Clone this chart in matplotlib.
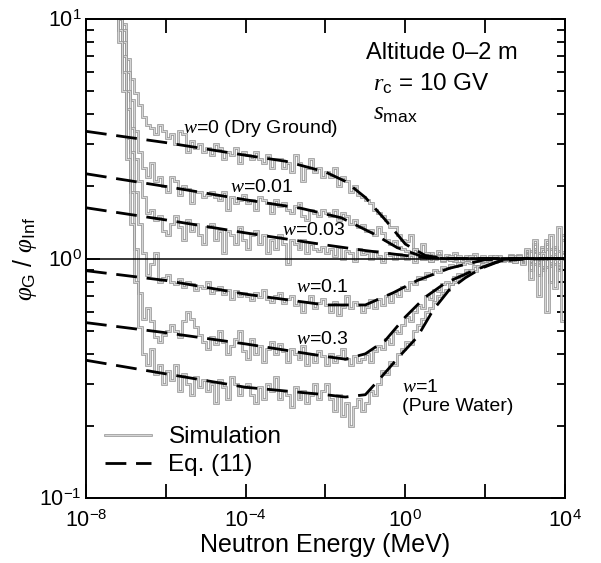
import numpy as np
import matplotlib
matplotlib.use('Agg')
import matplotlib.pyplot as plt
import matplotlib.patheffects as pe
from matplotlib.ticker import FixedLocator, LogLocator, NullFormatter
from matplotlib.lines import Line2D

plt.rcParams['font.family'] = ['Liberation Sans', 'DejaVu Sans']
plt.rcParams['mathtext.fontset'] = 'custom'
plt.rcParams['mathtext.rm'] = 'Liberation Sans'
plt.rcParams['mathtext.it'] = 'Liberation Serif:italic'
plt.rcParams['mathtext.bf'] = 'Liberation Sans:bold'

# simulation histograms, 0.1-decade bins from 10^-7.3 to 10^4 MeV
log_edges = np.round(np.arange(-7.3, 4.05, 0.1), 1)

sim_w0 = [14, 13, 9.5,
          6.8, 5.6, 4.9, 4.4, 3.9, 3.6, 3.5, 3.3, 3.6, 3.4,
          3.2, 3.3, 3.0, 3.4, 3.3, 2.8, 3.1, 2.9, 3.0, 2.8,
          2.9, 2.7, 3.0, 2.9, 2.6, 2.8, 2.7, 2.9, 2.5, 2.8,
          2.7, 2.6, 2.8, 2.6, 2.5, 2.7, 2.4, 2.6, 2.6, 2.4,
          2.5, 2.3, 2.7, 2.5, 2.1, 2.4, 2.6, 2.3, 2.4, 2.2,
          2.3, 2.2, 2.4, 2.0, 2.2, 2.1, 1.9, 2.0, 1.85, 1.8,
          1.75, 1.7, 1.6, 1.55, 1.5, 1.45, 1.35, 1.35, 1.25, 1.2,
          1.18, 1.25, 1.1, 1.05, 1.15, 1.0, 1.05, 1.02, 1.08, 0.98,
          1.03, 0.99, 1.05, 1.01, 0.98, 1.02, 1.0, 1.04, 0.99, 1.01,
          1.0, 1.02, 0.98, 1.01, 0.99, 1.0, 1.03, 0.97, 1.01, 1.0,
          1.02, 1.08, 0.95, 1.05, 1.12, 0.92, 1.1, 1.0, 0.9, 1.2]

sim_w001 = [14, 12, 9,
            6.0, 4.6, 3.4, 2.8, 2.4, 2.2, 2.5, 2.1, 2.2, 2.0,
            1.9, 2.2, 2.1, 1.85, 2.0, 1.95, 1.7, 1.9, 1.9, 1.8,
            1.85, 1.9, 1.8, 1.75, 1.9, 1.6, 1.8, 1.7, 1.75, 1.85,
            1.7, 1.75, 1.6, 1.8, 1.75, 1.7, 1.55, 1.75, 1.65, 1.7,
            1.6, 1.55, 1.65, 1.7, 1.5, 1.45, 1.6, 1.55, 1.5, 1.6,
            1.55, 1.5, 1.6, 1.45, 1.55, 1.5, 1.4, 1.45, 1.35, 1.38,
            1.3, 1.32, 1.25, 1.35, 1.28, 1.2, 1.15, 1.18, 1.12, 1.1,
            1.08, 1.05, 1.1, 1.02, 1.0, 1.04, 0.98, 1.01, 1.03, 1.0,
            1.0, 1.02, 0.98, 1.01, 1.0, 0.99, 1.02, 1.0, 0.98, 1.01,
            1.01, 0.99, 1.0, 1.02, 0.98, 1.0, 1.01, 0.99, 1.03, 0.98,
            1.05, 0.96, 1.1, 1.0, 0.92, 1.15, 1.02, 0.95, 1.08, 1.0]

sim_w003 = [14, 11, 8,
            5.0, 3.5, 2.6, 2.1, 1.8, 1.55, 1.6, 1.45, 1.5, 1.3,
            1.25, 1.4, 1.5, 1.35, 1.2, 1.45, 1.3, 1.4, 1.25, 1.15,
            1.35, 1.4, 1.2, 1.3, 1.05, 1.3, 1.25, 1.15, 1.35, 1.2,
            1.1, 1.25, 1.3, 1.15, 1.25, 1.05, 1.2, 1.1, 1.25, 1.15,
            0.95, 1.2, 1.15, 1.1, 1.2, 1.05, 1.15, 1.1, 1.08, 1.12,
            1.05, 1.1, 1.02, 1.12, 1.0, 1.08, 1.05, 0.98, 1.1, 1.04,
            1.05, 1.0, 1.08, 1.02, 0.97, 1.05, 1.03, 1.0, 1.04, 1.02,
            1.0, 1.03, 0.97, 1.02, 1.0, 1.05, 0.98, 1.0, 1.02, 0.99,
            1.01, 0.99, 1.0, 1.02, 0.98, 1.0, 1.01, 0.99, 1.0, 1.02,
            0.99, 1.0, 1.02, 0.98, 1.01, 1.0, 0.99, 1.02, 1.0, 0.97,
            1.04, 0.98, 1.06, 0.94, 1.1, 1.0, 0.93, 1.12, 1.0, 1.05]

sim_w01 = [13, 10, 7,
           4.2, 2.8, 1.9, 1.4, 1.05, 0.85, 0.95, 1.05, 0.8, 0.83,
           0.85, 0.8, 0.78, 0.82, 0.76, 0.8, 0.78, 0.74, 0.77, 0.75,
           0.8, 0.72, 0.74, 0.76, 0.71, 0.74, 0.68, 0.73, 0.7, 0.72,
           0.7, 0.67, 0.72, 0.69, 0.74, 0.68, 0.66, 0.7, 0.72, 0.65,
           0.68, 0.7, 0.64, 0.66, 0.6, 0.66, 0.7, 0.62, 0.65, 0.68,
           0.64, 0.6, 0.66, 0.58, 0.63, 0.7, 0.62, 0.66, 0.64, 0.6,
           0.63, 0.67, 0.62, 0.68, 0.64, 0.7, 0.66, 0.72, 0.7, 0.76,
           0.74, 0.8, 0.78, 0.84, 0.82, 0.87, 0.86, 0.9, 0.88, 0.92,
           0.91, 0.94, 0.93, 0.96, 0.95, 0.97, 0.96, 0.98, 0.99, 0.98,
           1.0, 0.99, 1.01, 0.98, 1.0, 0.99, 1.02, 0.98, 1.0, 0.97,
           1.03, 0.95, 1.08, 0.97, 0.9, 1.1, 0.96, 1.04, 0.92, 1.06]

sim_w03 = [12, 9, 6,
           3.2, 1.9, 1.1, 0.72, 0.56, 0.62, 0.55, 0.47, 0.45, 0.48,
           0.5, 0.53, 0.5, 0.47, 0.55, 0.6, 0.56, 0.52, 0.48, 0.45,
           0.42, 0.47, 0.44, 0.5, 0.45, 0.4, 0.43, 0.46, 0.5, 0.41,
           0.38, 0.46, 0.4, 0.43, 0.37, 0.42, 0.45, 0.4, 0.44, 0.41,
           0.37, 0.42, 0.4, 0.38, 0.43, 0.36, 0.4, 0.37, 0.41, 0.39,
           0.36, 0.4, 0.37, 0.39, 0.42, 0.38, 0.36, 0.39, 0.37, 0.38,
           0.4, 0.37, 0.41, 0.43, 0.42, 0.46, 0.44, 0.5, 0.49, 0.53,
           0.57, 0.55, 0.6, 0.64, 0.62, 0.7, 0.68, 0.74, 0.73, 0.78,
           0.8, 0.78, 0.84, 0.86, 0.85, 0.9, 0.88, 0.93, 0.92, 0.95,
           0.96, 0.98, 0.97, 1.0, 0.99, 1.01, 0.98, 1.0, 1.02, 0.96,
           1.08, 0.9, 1.15, 0.85, 1.0, 1.2, 0.8, 1.1, 0.95, 1.25]

sim_w1 = [11, 8, 5,
          2.6, 1.4, 0.8, 0.52, 0.4, 0.36, 0.42, 0.33, 0.36, 0.3,
          0.34, 0.31, 0.36, 0.28, 0.33, 0.3, 0.27, 0.32, 0.29, 0.31,
          0.28, 0.3, 0.25, 0.31, 0.29, 0.26, 0.32, 0.3, 0.27, 0.29,
          0.3, 0.27, 0.25, 0.29, 0.26, 0.3, 0.28, 0.32, 0.26, 0.28,
          0.27, 0.24, 0.29, 0.26, 0.28, 0.25, 0.27, 0.3, 0.26, 0.28,
          0.3, 0.26, 0.23, 0.27, 0.22, 0.25, 0.2, 0.24, 0.26, 0.23,
          0.25, 0.28, 0.27, 0.3, 0.34, 0.33, 0.37, 0.36, 0.4, 0.42,
          0.45, 0.44, 0.5, 0.53, 0.56, 0.6, 0.62, 0.66, 0.7, 0.72,
          0.74, 0.78, 0.8, 0.82, 0.85, 0.87, 0.9, 0.89, 0.93, 0.95,
          0.96, 0.97, 0.99, 0.98, 1.0, 0.99, 1.02, 0.97, 1.01, 0.95,
          1.1, 0.82, 1.2, 0.7, 1.05, 0.6, 1.25, 0.75, 1.35, 0.55]

# Eq. (11) curves: (log10 E, ratio)
eq_w0 = ([-8, -6, -4, -3, -2, -1.5, -1, -0.5, 0, 0.5, 1, 4],
         [3.4, 3.05, 2.7, 2.55, 2.3, 2.1, 1.8, 1.45, 1.15, 1.03, 1.0, 1.0])
eq_w001 = ([-8, -6, -4, -2.6, -1.6, -0.8, -0.2, 0.5, 1, 4],
           [2.26, 2.0, 1.76, 1.62, 1.48, 1.27, 1.11, 1.01, 1.0, 1.0])
eq_w003 = ([-8, -6, -4, -2, -1, 0, 0.5, 1, 4],
           [1.63, 1.45, 1.28, 1.14, 1.08, 1.03, 1.01, 1.0, 1.0])
eq_w01 = ([-8, -6, -4, -2, -1, -0.3, 0.3, 1.1, 2, 4],
          [0.89, 0.81, 0.71, 0.64, 0.64, 0.72, 0.81, 0.91, 0.99, 1.0])
eq_w03 = ([-8, -6, -4, -2, -1.5, -1, -0.5, 0, 0.5, 1, 1.7, 2.3, 3, 4],
          [0.54, 0.49, 0.44, 0.39, 0.38, 0.40, 0.455, 0.57, 0.69, 0.79, 0.89, 0.97, 1.0, 1.0])
eq_w1 = ([-8, -6, -4, -2, -1.5, -1, -0.6, -0.15, 0.3, 0.7, 1.1, 1.5, 1.9, 2.4, 3, 4],
         [0.376, 0.33, 0.29, 0.27, 0.264, 0.27, 0.32, 0.39, 0.47, 0.61, 0.74, 0.83, 0.91, 0.98, 1.0, 1.0])

sims = [sim_w0, sim_w001, sim_w003, sim_w01, sim_w03, sim_w1]
eqs = [eq_w0, eq_w001, eq_w003, eq_w01, eq_w03, eq_w1]

fig = plt.figure(figsize=(6.01, 5.63), dpi=100)
ax = fig.add_axes([0.143, 0.1155, 0.797, 0.8505])

edges = 10.0 ** log_edges
hollow = [pe.Stroke(linewidth=1.9, foreground='#999999'), pe.Normal()]
for vals in sims:
    ax.stairs(vals, edges, baseline=None, color='#f0f0f0', linewidth=0.5,
              path_effects=hollow, zorder=2)

ax.axhline(1.0, color='k', linewidth=1.1, zorder=3)

for lx, ly in eqs:
    ax.plot(10.0 ** np.array(lx), ly, color='k', linewidth=2.0,
            dashes=(7.5, 3.5), zorder=4)

ax.set_xscale('log')
ax.set_yscale('log')
ax.set_xlim(1e-8, 1e4)
ax.set_ylim(0.1, 10)

ax.xaxis.set_major_locator(FixedLocator([10.0 ** k for k in range(-8, 5, 2)]))
ax.xaxis.set_minor_locator(FixedLocator([]))
ax.set_xticklabels(['$10^{-8}$', '', '$10^{-4}$', '', '$10^{0}$', '', '$10^{4}$'])
ax.yaxis.set_major_locator(FixedLocator([0.1, 1, 10]))
ax.yaxis.set_minor_locator(LogLocator(base=10, subs=np.arange(2, 10)))
ax.yaxis.set_minor_formatter(NullFormatter())
ax.set_yticklabels(['$10^{-1}$', '$10^{0}$', '$10^{1}$'])

ax.tick_params(which='both', direction='in', top=True, right=True,
               labelsize=15.5, width=1.3)
ax.tick_params(which='major', length=10)
ax.tick_params(which='minor', length=6)
ax.tick_params(axis='x', which='major', pad=9)
ax.tick_params(axis='y', which='major', pad=3)
for s in ax.spines.values():
    s.set_linewidth(1.4)

ax.set_xlabel('Neutron Energy (MeV)', fontsize=18, labelpad=1)
ax.set_ylabel(r'$\varphi_{\rm G}$ / $\varphi_{\rm Inf}$', fontsize=18, labelpad=0)

# curve labels
lab = dict(fontsize=14, va='center', ha='left', zorder=5)
ax.text(10 ** -5.58, 3.5, r'$w$=0 (Dry Ground)', **lab)
ax.text(10 ** -4.4, 1.98, r'$w$=0.01', **lab)
ax.text(10 ** -3.1, 1.31, r'$w$=0.03', **lab)
ax.text(10 ** -2.73, 0.76, r'$w$=0.1', **lab)
ax.text(10 ** -2.73, 0.46, r'$w$=0.3', **lab)
ax.text(10 ** -0.07, 0.29, r'$w$=1', **lab)
ax.text(10 ** -0.07, 0.24, '(Pure Water)', **lab)

ax.text(0.585, 0.93, 'Altitude 0\u20132 m', transform=ax.transAxes,
        fontsize=17, va='center', ha='left')
ax.text(0.60, 0.865, r'$r_{\rm c}$ = 10 GV', transform=ax.transAxes,
        fontsize=17.5, va='center', ha='left')
ax.text(0.60, 0.805, r'$s_{\rm max}$', transform=ax.transAxes,
        fontsize=18, va='center', ha='left')

handles = [Line2D([], [], color='#f0f0f0', linewidth=0.5, path_effects=hollow),
           Line2D([], [], color='k', linewidth=2.0, dashes=(7.5, 3.5))]
ax.legend(handles, ['Simulation', 'Eq. (11)'], loc='lower left',
          bbox_to_anchor=(0.02, 0.025), borderaxespad=0, frameon=False,
          fontsize=17.5, handlelength=1.9, handletextpad=0.7, labelspacing=0.25)

fig.savefig('out.png', dpi=100)
